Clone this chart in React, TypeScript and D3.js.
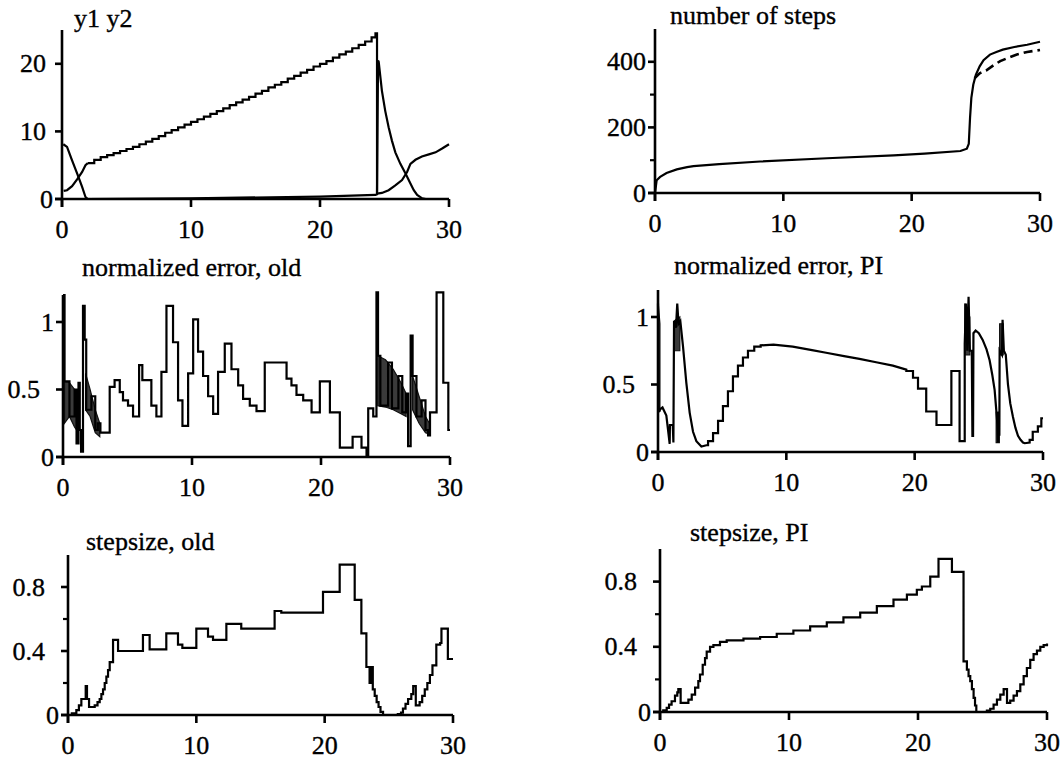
import React from "react";
import * as d3 from "d3";

type P = [number, number];
type B = [number, number, number];

// ---------- shared ----------
const timeTicks = [0, 10, 20, 30];

// ---------- panel 1: y1 y2 ----------
const y1Rise: P[] = [[0.13, 1.2], [0.39, 1.3], [0.78, 1.9], [1.17, 2.9], [1.56, 4.0], [1.82, 5.0], [2.0, 5.3]];
const y1Ramp: P[] = [
  [2.0, 5.3], [2.5, 5.8], [3.0, 6.2], [3.5, 6.5], [4.0, 6.8], [4.5, 7.1], [5.0, 7.4], [5.5, 7.7],
  [6.0, 8.1], [6.5, 8.5], [7.0, 8.9], [7.5, 9.3], [8.0, 9.8], [8.5, 10.2], [9.0, 10.6], [9.5, 11.0],
  [10.0, 11.4], [10.5, 11.8], [11.0, 12.2], [11.5, 12.6], [12.0, 13.0], [12.5, 13.4], [13.0, 13.9],
  [13.5, 14.3], [14.0, 14.7], [14.5, 15.1], [15.0, 15.6], [15.5, 16.0], [16.0, 16.5], [16.5, 16.9],
  [17.0, 17.3], [17.5, 17.8], [18.0, 18.2], [18.5, 18.7], [19.0, 19.1], [19.5, 19.6], [20.0, 20.0],
  [20.5, 20.4], [21.0, 20.9], [21.5, 21.4], [22.0, 21.8], [22.5, 22.3], [23.0, 22.8], [23.5, 23.3],
  [24.0, 23.9], [24.3, 24.5], [24.42, 0.8],
];
const y1Recover: P[] = [
  [24.42, 0.8], [24.8, 0.9], [25.32, 1.3], [25.84, 2.0], [26.36, 2.8], [26.75, 4.0], [27.01, 5.2],
  [27.4, 5.8], [27.9, 6.3], [28.44, 6.6], [28.96, 6.9], [29.5, 7.5], [30, 8.1],
];
const y2Curve: P[] = [
  [0.1, 8.1], [0.39, 7.7], [0.78, 5.7], [1.17, 3.8], [1.56, 1.8], [1.82, 0.3], [2.0, 0], [10, 0.1],
  [20, 0.35], [24.3, 0.6], [24.42, 0.7], [24.5, 20.5], [24.55, 20.3], [24.8, 16.0], [25.06, 13.0],
  [25.32, 10.6], [25.58, 8.6], [25.84, 6.9], [26.23, 5.2], [26.62, 3.8], [27.01, 2.3], [27.27, 1.3],
  [27.53, 0.6], [27.92, 0.1], [28.2, 0], [30, 0],
];
const yTicks1 = [0, 10, 20];

// ---------- panel 2: number of steps ----------
const stepsPI: P[] = [
  [0, 0], [0.13, 39], [0.4, 49], [0.9, 61], [1.7, 72], [2.5, 79], [3, 82], [5, 88], [8.2, 96],
  [13.4, 106], [18.6, 115], [21, 120], [23.8, 128], [24.3, 135], [24.45, 150], [24.55, 230],
  [24.65, 290], [24.8, 330], [25.0, 360], [25.3, 386], [25.6, 405], [26.1, 422], [26.6, 430],
  [27.1, 437], [28.0, 445], [29.0, 452], [30, 461],
];
const stepsOld: P[] = [
  [24.9, 350], [25.3, 365], [25.8, 373], [26.4, 390], [26.9, 402], [27.5, 412], [28.2, 422],
  [29, 430], [30, 436],
];
const yTicks2 = [0, 200, 400];
const yMinor2 = [100, 300];

// ---------- panel 3: normalized error, old ----------
const errOld: P[] = [
  [0, 1.2], [0.12, 0.56], [0.5, 0.3], [0.9, 0.5], [1.05, 0.1], [1.2, 0.55], [1.3, 0.2], [1.4, 0.04],
  [1.55, 1.12], [1.68, 0.87], [1.8, 0.35], [2.2, 0.45], [2.5, 0.2], [2.7, 0.25], [2.9, 0.18],
  [3.62, 0.52], [4.0, 0.57], [4.4, 0.48], [4.65, 0.42], [5.04, 0.38], [5.43, 0.3], [5.9, 0.68],
  [6.15, 0.57], [6.85, 0.38], [7.24, 0.3], [7.63, 0.63], [8.02, 1.12], [8.53, 0.85], [8.92, 0.42],
  [9.26, 0.23], [9.7, 0.62], [10.09, 1.02], [10.47, 0.78], [10.86, 0.6], [11.25, 0.45],
  [11.64, 0.32], [12.02, 0.63], [12.54, 0.84], [13.06, 0.65], [13.58, 0.53], [13.96, 0.43],
  [14.48, 0.38], [15.0, 0.34], [15.64, 0.7], [17.33, 0.58], [17.71, 0.53], [18.1, 0.46],
  [18.62, 0.42], [19.27, 0.33], [19.91, 0.56], [20.69, 0.33], [21.46, 0.07], [22.45, 0.15],
  [23.14, 0.07], [23.53, 0.0], [23.66, 0.36], [24.05, 0.3], [24.3, 1.22], [24.42, 0.75],
  [24.6, 0.38], [25.2, 0.7], [25.5, 0.36], [26.0, 0.6], [26.3, 0.33], [26.6, 0.47], [26.75, 0.08],
  [26.95, 0.9], [27.1, 0.6], [27.4, 0.3], [27.8, 0.42], [28.1, 0.2], [28.3, 0.16], [28.45, 0.33],
  [28.96, 1.22], [29.48, 0.55], [29.87, 0.2], [30, 0.2],
];
const errOldBands: B[][] = [
  [[0.12, 0.25, 0.56], [0.5, 0.3, 0.55], [0.9, 0.22, 0.5], [1.05, 0.2, 0.45]],
  [[1.75, 0.35, 0.62], [2.1, 0.3, 0.5], [2.5, 0.18, 0.35], [2.85, 0.15, 0.25]],
  [[24.4, 0.38, 0.75], [25.0, 0.37, 0.72], [25.6, 0.35, 0.65], [26.2, 0.32, 0.55], [26.6, 0.3, 0.47]],
  [[27.1, 0.35, 0.6], [27.6, 0.25, 0.45], [28.1, 0.18, 0.3], [28.4, 0.17, 0.25]],
];
const yTicksErr = [0, 0.5, 1];

// ---------- panel 4: normalized error, PI ----------
const errPI: P[] = [
  [0, 1.1], [0.05, 0.3], [0.2, 0.32], [0.35, 0.33], [0.5, 0.3], [0.65, 0.27], [0.8, 0.15],
  [0.91, 0.06], [0.93, 0.2], [1.15, 0.2], [1.2, 0.07], [1.25, 0.97], [1.4, 0.92], [1.5, 1.1],
  [1.6, 0.95], [1.74, 0.97], [1.95, 0.78], [2.21, 0.51], [2.47, 0.29], [2.73, 0.15], [2.99, 0.08],
  [3.38, 0.04], [3.77, 0.05], [3.9, 0.05], [3.9, 0.08], [4.29, 0.08], [4.29, 0.14], [4.68, 0.14],
  [4.68, 0.23], [5.06, 0.23], [5.06, 0.34], [5.45, 0.34], [5.45, 0.45], [5.84, 0.45], [5.84, 0.56],
  [6.23, 0.56], [6.23, 0.64], [6.62, 0.64], [6.62, 0.7], [7.01, 0.7], [7.01, 0.75], [7.5, 0.75],
  [7.5, 0.78], [8.0, 0.78], [8.0, 0.79], [9.0, 0.795], [10.5, 0.78], [12, 0.755], [13.1, 0.735],
  [14.5, 0.71], [15.7, 0.69], [17, 0.665], [18.3, 0.64], [19.35, 0.61], [19.35, 0.6], [19.87, 0.6],
  [19.87, 0.55], [20.26, 0.55], [20.26, 0.47], [20.9, 0.47], [20.9, 0.3], [21.7, 0.3], [21.7, 0.2],
  [22.86, 0.2], [22.86, 0.6], [23.5, 0.6], [23.5, 0.08], [23.9, 0.08], [23.9, 0.8], [24.0, 1.1],
  [24.1, 0.75], [24.2, 1.15], [24.3, 0.75], [24.45, 0.75], [24.5, 0.12], [24.55, 0.12],
  [24.58, 0.88], [24.75, 0.9], [25.0, 0.88], [25.3, 0.83], [25.6, 0.76], [25.84, 0.68],
  [26.05, 0.57], [26.23, 0.46], [26.36, 0.31], [26.45, 0.2], [26.5, 0.07], [26.55, 0.3],
  [26.6, 0.12], [26.62, 0.75], [26.8, 0.72], [26.85, 0.98], [26.95, 0.75], [27.1, 0.72],
  [27.27, 0.5], [27.45, 0.36], [27.66, 0.26], [27.85, 0.18], [28.05, 0.12], [28.25, 0.09],
  [28.44, 0.07], [28.57, 0.065], [28.96, 0.07], [28.96, 0.09], [29.2, 0.09], [29.2, 0.15],
  [29.6, 0.15], [29.6, 0.19], [29.87, 0.19], [29.87, 0.25], [30, 0.25],
];
const errPIBands: B[][] = [
  [[0.02, 0.3, 1.1], [0.15, 0.3, 0.95]],
  [[1.25, 0.75, 0.97], [1.7, 0.75, 1.0]],
  [[23.9, 0.72, 1.1], [24.3, 0.72, 1.0]],
  [[26.35, 0.07, 0.3], [26.6, 0.07, 0.25]],
  [[26.62, 0.72, 0.95], [26.9, 0.72, 0.95]],
];

// ---------- panel 5: stepsize, old ----------
const hOld: P[] = [
  [0, 0], [0.3, 0.01], [0.65, 0.03], [0.85, 0.06], [1.04, 0.1], [1.38, 0.18], [1.48, 0.1],
  [1.64, 0.05], [2.08, 0.06], [2.3, 0.08], [2.47, 0.1], [2.6, 0.13], [2.73, 0.16], [2.86, 0.2],
  [2.99, 0.24], [3.12, 0.28], [3.25, 0.33], [3.51, 0.47], [3.9, 0.4], [5.84, 0.5], [6.36, 0.41],
  [7.66, 0.51], [8.57, 0.44], [8.91, 0.42], [10.0, 0.54], [10.91, 0.49], [11.3, 0.47],
  [12.34, 0.57], [13.5, 0.54], [16.1, 0.65], [16.62, 0.64], [19.87, 0.77], [21.17, 0.94],
  [22.34, 0.72], [22.86, 0.51], [23.25, 0.3], [23.5, 0.2], [23.6, 0.3], [23.75, 0.16],
  [23.9, 0.12], [24.05, 0.08], [24.2, 0.05], [24.35, 0.02], [24.55, 0], [25.7, 0.005],
  [25.95, 0.015], [26.1, 0.04], [26.3, 0.07], [26.5, 0.1], [26.75, 0.13], [26.9, 0.18],
  [27.1, 0.06], [27.4, 0.08], [27.6, 0.12], [27.8, 0.16], [28.0, 0.2], [28.2, 0.25], [28.4, 0.31],
  [28.7, 0.44], [29.0, 0.45], [29.1, 0.54], [29.6, 0.35], [30, 0.35],
];
const yTicksH = [0, 0.4, 0.8];
const yMinorH = [0.2, 0.6];

// ---------- panel 6: stepsize, PI ----------
const hPI: P[] = [
  [0, 0], [0.25, 0.01], [0.52, 0.025], [0.7, 0.045], [0.9, 0.066], [1.16, 0.1], [1.34, 0.12],
  [1.42, 0.14], [1.6, 0.056], [1.94, 0.056], [2.2, 0.076], [2.46, 0.107], [2.72, 0.15],
  [2.97, 0.19], [3.1, 0.23], [3.31, 0.29], [3.49, 0.33], [3.62, 0.37], [3.88, 0.4], [4.14, 0.41],
  [4.65, 0.43], [5.17, 0.44], [6.47, 0.45], [7.76, 0.46], [9.05, 0.48], [10.34, 0.5],
  [11.64, 0.525], [12.93, 0.55], [14.22, 0.58], [15.52, 0.61], [16.81, 0.65], [18.1, 0.69],
  [19.14, 0.72], [19.91, 0.75], [20.3, 0.77], [20.95, 0.83], [21.59, 0.94], [22.63, 0.86],
  [23.53, 0.31], [23.79, 0.26], [23.92, 0.22], [24.05, 0.19], [24.18, 0.14], [24.31, 0.087],
  [24.42, 0.04], [24.52, 0], [25.08, 0], [25.34, 0.008], [25.6, 0.02], [25.86, 0.045],
  [26.12, 0.076], [26.38, 0.107], [26.64, 0.14], [26.76, 0.14], [26.9, 0.056], [27.15, 0.07],
  [27.41, 0.1], [27.67, 0.128], [27.93, 0.17], [28.19, 0.22], [28.44, 0.27], [28.7, 0.32],
  [28.96, 0.355], [29.22, 0.376], [29.48, 0.4], [29.74, 0.41], [30, 0.42],
];

// ---------- drawing ----------
const FONT = "Liberation Serif, Times New Roman, serif";
const FS = 26;

type Series = { data: P[]; curve: d3.CurveFactory; dash?: string };
type Box = { l: number; r: number; t: number; b: number };

function labelPad(s: string) {
  if (s.includes(".")) return 23;
  if (s.length === 2) return 16;
  return 9;
}

const textStyle: React.CSSProperties = {
  fontFamily: FONT,
  fontSize: FS,
  stroke: "#000",
  strokeWidth: 0.35,
};

function Panel(props: {
  box: Box;
  yMax: number;
  yTicks: number[];
  yMinor?: number[];
  title: string;
  titleX: number;
  titleY: number;
  series: Series[];
  bands?: B[][];
}) {
  const { box, yMax, yTicks, yMinor = [], title, titleX, titleY, series, bands = [] } = props;
  const x = d3.scaleLinear().domain([0, 30]).range([box.l, box.r]);
  const y = d3.scaleLinear().domain([0, yMax]).range([box.b, box.t]);
  const area = d3
    .area<B>()
    .x((d) => x(d[0]))
    .y0((d) => y(d[1]))
    .y1((d) => y(d[2]));
  return (
    <g>
      {bands.map((b, i) => (
        <path key={"b" + i} d={area(b) || ""} fill="#3a3a3a" stroke="#111" strokeWidth={1.2} />
      ))}
      {series.map((s, i) => {
        const line = d3
          .line<P>()
          .x((d) => x(d[0]))
          .y((d) => y(d[1]))
          .curve(s.curve);
        return (
          <path
            key={"s" + i}
            d={line(s.data) || ""}
            fill="none"
            stroke="#000"
            strokeWidth={s.dash ? 2.6 : 2.2}
            strokeDasharray={s.dash}
            strokeLinejoin="miter"
          />
        );
      })}
      {/* axes */}
      <line x1={x(0)} x2={x(0)} y1={y(0) + 8} y2={y(yMax)} stroke="#000" strokeWidth={2.6} />
      <line x1={x(0) - 7} x2={x(30)} y1={y(0)} y2={y(0)} stroke="#000" strokeWidth={2.6} />
      {timeTicks.map((t) => (
        <g key={"xt" + t}>
          <line x1={x(t)} x2={x(t)} y1={y(0)} y2={y(0) + 8} stroke="#000" strokeWidth={2.6} />
          <text x={x(t)} y={y(0) + 39} textAnchor="middle" style={textStyle}>
            {String(t)}
          </text>
        </g>
      ))}
      {yTicks.map((v) => (
        <g key={"yt" + v}>
          <line x1={x(0) - 7} x2={x(0)} y1={y(v)} y2={y(v)} stroke="#000" strokeWidth={2.6} />
          <text x={x(0) - labelPad(String(v))} y={y(v)} dy="0.33em" textAnchor="end" style={textStyle}>
            {String(v)}
          </text>
        </g>
      ))}
      {yMinor.map((v) => (
        <line key={"ym" + v} x1={x(0) - 5} x2={x(0)} y1={y(v)} y2={y(v)} stroke="#000" strokeWidth={2.2} />
      ))}
      <text x={titleX} y={titleY} style={textStyle}>
        {title}
      </text>
    </g>
  );
}

export default function App() {
  return (
    <svg
      width={1062}
      height={764}
      viewBox="0 0 1062 764"
      style={{ position: "absolute", left: 0, top: 0, background: "#fff" }}
    >
      <rect x={0} y={0} width={1062} height={764} fill="#fff" />
      <Panel
        box={{ l: 62, r: 449, t: 30, b: 199 }}
        yMax={25}
        yTicks={yTicks1}
        title="y1 y2"
        titleX={74}
        titleY={27}
        series={[
          { data: y1Rise, curve: d3.curveLinear },
          { data: y1Ramp, curve: d3.curveStepAfter },
          { data: y1Recover, curve: d3.curveLinear },
          { data: y2Curve, curve: d3.curveLinear },
        ]}
      />
      <Panel
        box={{ l: 655, r: 1040, t: 29, b: 193 }}
        yMax={500}
        yTicks={yTicks2}
        yMinor={yMinor2}
        title="number of steps"
        titleX={670}
        titleY={24}
        series={[
          { data: stepsPI, curve: d3.curveLinear },
          { data: stepsOld, curve: d3.curveLinear, dash: "9,5" },
        ]}
      />
      <Panel
        box={{ l: 63, r: 450, t: 295, b: 457 }}
        yMax={1.2}
        yTicks={yTicksErr}
        title="normalized error, old"
        titleX={82}
        titleY={276}
        series={[{ data: errOld, curve: d3.curveStepAfter }]}
        bands={errOldBands}
      />
      <Panel
        box={{ l: 658, r: 1043, t: 290, b: 452 }}
        yMax={1.2}
        yTicks={yTicksErr}
        title="normalized error, PI"
        titleX={674}
        titleY={274}
        series={[{ data: errPI, curve: d3.curveLinear }]}
        bands={errPIBands}
      />
      <Panel
        box={{ l: 68, r: 453, t: 555, b: 715 }}
        yMax={1}
        yTicks={yTicksH}
        yMinor={yMinorH}
        title="stepsize, old"
        titleX={86}
        titleY={550}
        series={[{ data: hOld, curve: d3.curveStepAfter }]}
      />
      <Panel
        box={{ l: 660, r: 1047, t: 549, b: 712 }}
        yMax={1}
        yTicks={yTicksH}
        yMinor={yMinorH}
        title="stepsize, PI"
        titleX={690}
        titleY={541}
        series={[{ data: hPI, curve: d3.curveStepAfter }]}
      />
    </svg>
  );
}
